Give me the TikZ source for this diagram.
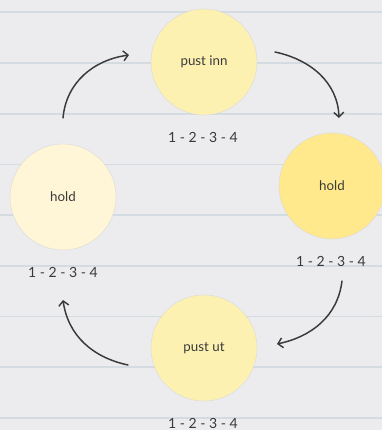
\documentclass[tikz,border=0pt]{standalone}
\usepackage{fontspec}
\setmainfont{Lato}
\usetikzlibrary{arrows.meta}
\definecolor{paper}{HTML}{ECECEE}
\definecolor{rule}{HTML}{D4DCE1}
\definecolor{ink}{HTML}{3A3A3A}
\definecolor{yelA}{HTML}{FDF1B2}
\definecolor{yelB}{HTML}{FFE98C}
\definecolor{yelC}{HTML}{FEF6D6}
\begin{document}
\begin{tikzpicture}[x=0.75pt, y=0.75pt, font=\fontsize{10}{12}\selectfont, line join=round, line cap=round,
	phase/.style={circle, minimum size=106*0.75pt, inner sep=0pt, draw=black!15, line width=0.3pt, text=ink},
	nums/.style={text=ink, font=\fontsize{10.5}{12}\selectfont},
	flow/.style={draw=ink, line width=1.1pt, -{Straight Barb[length=3.5pt, width=7.5pt]}}]
	\def\W{382} \def\H{430}
	\fill[paper] (0,0) rectangle (\W,\H);
	\useasboundingbox (0,0) rectangle (\W,\H);
	% linjer
	\foreach \k in {0,...,8}
		\draw[rule, line width=1.3pt] (0,{\H-12.3-50.7*\k}) -- (\W,{\H-12.3-50.7*\k});
	% sirkler
	\node[phase, fill=yelA] (inn) at (204,368) {pust inn};
	\node[phase, fill=yelB] (holdR) at (332,244) {hold};
	\node[phase, fill=yelC] (holdL) at (63,233) {hold};
	\node[phase, fill=yelA] (ut) at (204,82) {pust ut};
	\node[nums] (nInn) at (203,293) {1 - 2 - 3 - 4};
	\node[nums] (nHoldR) at (331,169) {1 - 2 - 3 - 4};
	\node[nums] (nHoldL) at (63,158) {1 - 2 - 3 - 4};
	\node[nums] (nUt) at (203,7) {1 - 2 - 3 - 4};
	% piler
	\coordinate (a1) at (63,312); \coordinate (b1) at (129,375);
	\coordinate (a2) at (275,378); \coordinate (b2) at (339,312);
	\coordinate (a3) at (342,149); \coordinate (b3) at (277,86);
	\coordinate (a4) at (128,65); \coordinate (b4) at (63,130);
	\draw[flow] (a1) to[out=85, in=188] (b1);
	\draw[flow] (a2) to[out=-12, in=92] (b2);
	\draw[flow] (a3) to[out=-97, in=12] (b3);
	\draw[flow] (a4) to[out=168, in=-82] (b4);
\end{tikzpicture}
\end{document}
